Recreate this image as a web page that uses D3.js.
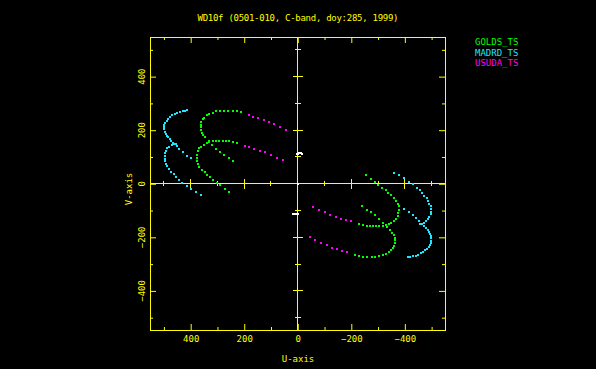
<!DOCTYPE html>
<html>
<head>
<meta charset="utf-8">
<script src="https://cdn.jsdelivr.net/npm/d3@7"></script>
<style>
  body { margin: 0; background: #000; }
  svg { display: block; }
</style>
</head>
<body>
<svg id="uvPlot" width="596" height="369"></svg>
<script>
// uv tracks (one half; conjugate points are plotted too)
const goldsA = [[212,267],[228,271],[243,272],[259,273],[276,273],[290,272],[305,270],[318,266],[330,261],[340,255],[349,247],[355,240],[360,231],[363,221],[363,211],[362,201],[358,191],[353,183],[345,173],[333,160],[320,146],[305,131],[290,118],[274,107],[258,97],[241,84]];
const goldsB = [[228,152],[243,155],[258,158],[268,159],[280,159],[293,159],[305,159],[318,158],[330,155],[340,151],[350,146],[360,139],[368,132],[373,122],[376,109],[378,97],[378,84],[374,74],[368,63],[358,53],[348,43],[338,33],[328,25],[315,15],[300,4],[289,-6],[273,-19],[256,-31]];
const madrdA = [[413,275],[421,273],[430,271],[440,268],[450,265],[460,260],[469,255],[477,249],[484,243],[490,236],[495,228],[498,220],[499,212],[499,203],[497,195],[494,187],[490,180],[485,173],[479,166],[472,159],[465,151],[453,140],[442,128],[430,118],[414,105],[397,95]];
const madrdB = [[455,150],[462,149],[471,145],[480,139],[487,132],[492,124],[496,114],[497,104],[497,94],[496,84],[492,74],[487,65],[481,55],[472,45],[464,36],[455,25],[444,14],[431,2],[415,-7],[398,-20],[380,-32],[361,-42]];
const usudaA = [[183,256],[166,251],[147,245],[127,238],[108,230],[87,222],[66,211],[45,200]];
const usudaB = [[197,140],[181,137],[162,131],[142,124],[121,117],[101,107],[79,97],[56,87]];
const otherPts = [[-16,113],[-11,114],[-6,114],[-2,113],[2,112],[0,0]];

const stations = ["GOLDS_TS", "MADRD_TS", "USUDA_TS"];
const stationColors = ["#00ff00", "#1ee6ff", "#ff00ff"];
const stationTracks = [[goldsA, goldsB], [madrdA, madrdB], [usudaA, usudaB]];

const majorTicks = [-400, -200, 0, 200, 400];
const minorTicks = [-500, -300, -100, 100, 300, 500];
const titleText = "WD10f (0501-010, C-band, doy:285, 1999)";

const svg = d3.select("#uvPlot");
const yellow = "#ffff00";
const font = "'DejaVu Sans Mono', monospace";

const x = d3.scaleLinear().domain([552, -550]).range([150, 445]);
const y = d3.scaleLinear().domain([548, -546]).range([37, 330]);
const x0 = 150, x1 = 445, y0 = 37, y1 = 330;

const fmt = d => d < 0 ? "\u2212" + Math.abs(d) : String(d);

// frame ticks (inward)
function frameAxis(axis, tx, ty) {
  const g = svg.append("g").attr("transform", `translate(${tx},${ty})`);
  g.call(axis);
  g.select(".domain").remove();
  g.selectAll("line").attr("stroke", yellow);
  return g;
}
frameAxis(d3.axisBottom(x).tickValues(majorTicks).tickSize(-6).tickPadding(6).tickFormat(fmt), 0, y1)
  .selectAll("text").attr("fill", yellow).style("font-family", font).style("font-size", "9px");
frameAxis(d3.axisBottom(x).tickValues(minorTicks).tickSize(-3).tickFormat(""), 0, y1);
frameAxis(d3.axisTop(x).tickValues(majorTicks).tickSize(-6).tickFormat(""), 0, y0);
frameAxis(d3.axisTop(x).tickValues(minorTicks).tickSize(-3).tickFormat(""), 0, y0);
frameAxis(d3.axisLeft(y).tickValues(majorTicks).tickSize(-6).tickFormat(""), x0, 0);
frameAxis(d3.axisLeft(y).tickValues(minorTicks).tickSize(-3).tickFormat(""), x0, 0);
frameAxis(d3.axisRight(y).tickValues(majorTicks).tickSize(-6).tickFormat(""), x1, 0);
frameAxis(d3.axisRight(y).tickValues(minorTicks).tickSize(-3).tickFormat(""), x1, 0);

// left labels, rotated
svg.append("g").selectAll("text")
  .data(majorTicks)
  .enter().append("text")
  .attr("x", 145)
  .attr("y", d => y(d))
  .attr("transform", d => `rotate(-90,145,${y(d)})`)
  .attr("text-anchor", "middle")
  .attr("fill", yellow)
  .style("font-family", font)
  .style("font-size", "9px")
  .text(fmt);

// frame
svg.append("rect")
  .attr("x", x0).attr("y", y0)
  .attr("width", x1 - x0).attr("height", y1 - y0)
  .attr("fill", "none").attr("stroke", yellow).attr("shape-rendering", "crispEdges");

// zero axes with crossing ticks
const axes = svg.append("g").attr("stroke", yellow).attr("shape-rendering", "crispEdges");
axes.append("line").attr("x1", x0).attr("x2", x1).attr("y1", y(0)).attr("y2", y(0));
axes.append("line").attr("x1", x(0)).attr("x2", x(0)).attr("y1", y0).attr("y2", y1);
const allTicks = majorTicks.concat(minorTicks);
axes.selectAll(".hx").data(allTicks).enter().append("line")
  .attr("x1", d => x(d)).attr("x2", d => x(d))
  .attr("y1", d => y(0) - (majorTicks.includes(d) ? 5 : 2.5))
  .attr("y2", d => y(0) + (majorTicks.includes(d) ? 5 : 2.5));
axes.selectAll(".vy").data(allTicks).enter().append("line")
  .attr("y1", d => y(d)).attr("y2", d => y(d))
  .attr("x1", d => x(0) - (majorTicks.includes(d) ? 5 : 3))
  .attr("x2", d => x(0) + (majorTicks.includes(d) ? 5 : 3));

// points (with conjugates)
function drawPoints(pts, color) {
  const both = pts.concat(pts.map(p => [-p[0], -p[1]]));
  svg.append("g").selectAll("rect")
    .data(both)
    .enter().append("rect")
    .attr("x", d => Math.round(x(d[0])) - 1)
    .attr("y", d => Math.round(y(d[1])) - 1)
    .attr("width", 2)
    .attr("height", 2)
    .attr("fill", color);
}
drawPoints(otherPts, "#ffffff");
stationTracks.forEach((tracks, i) => {
  tracks.forEach(t => drawPoints(t, stationColors[i]));
});

// title and axis labels
svg.append("text")
  .attr("x", 298).attr("y", 20.5)
  .attr("text-anchor", "middle")
  .attr("textLength", 201).attr("lengthAdjust", "spacing")
  .attr("fill", yellow)
  .style("font-family", font).style("font-size", "9px")
  .text(titleText);

svg.append("text")
  .attr("x", 298).attr("y", 361.5)
  .attr("text-anchor", "middle")
  .attr("fill", yellow)
  .style("font-family", font).style("font-size", "9px")
  .text("U-axis");

svg.append("text")
  .attr("x", 131.5).attr("y", 189)
  .attr("transform", "rotate(-90,131.5,189)")
  .attr("text-anchor", "middle")
  .attr("fill", yellow)
  .style("font-family", font).style("font-size", "9px")
  .text("V-axis");

// legend
svg.append("g").selectAll("text")
  .data(stations)
  .enter().append("text")
  .attr("x", 475)
  .attr("y", (d, i) => 45 + i * 10.6)
  .attr("fill", (d, i) => stationColors[i])
  .style("font-family", font).style("font-size", "9px")
  .text(d => d);
</script>
</body>
</html>
